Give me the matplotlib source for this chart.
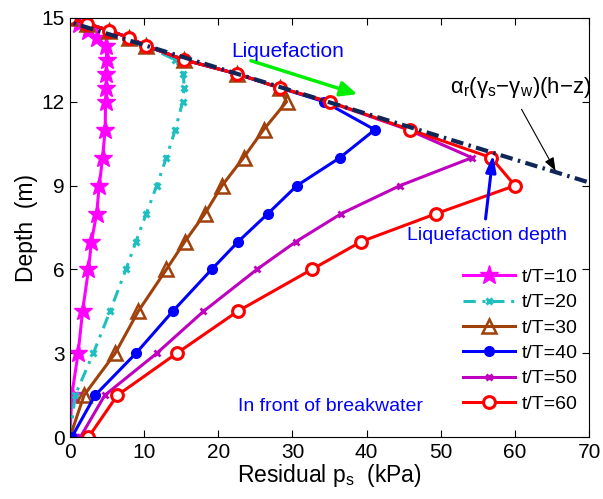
import numpy as np
import matplotlib
matplotlib.use("Agg")
import matplotlib.pyplot as plt

plt.rcParams['font.family'] = ['Liberation Sans', 'DejaVu Sans']
plt.rcParams['mathtext.fontset'] = 'custom'
plt.rcParams['mathtext.rm'] = 'Liberation Sans'
plt.rcParams['mathtext.it'] = 'Liberation Sans:italic'

# depth of each node (m)
depth = [0, 1.5, 3, 4.5, 6, 7, 8, 9, 10, 11, 12, 12.5, 13, 13.5, 14, 14.3, 14.55, 14.8, 15]

# residual pore pressure (kPa) at each node
p_10 = [0, 0.25, 1.1, 1.7, 2.5, 2.9, 3.6, 3.95, 4.4, 4.75, 4.8, 4.9, 4.9, 5.0, 4.8, 3.6, 2.5, 1.2, 0]
p_20 = [0, 0.7, 3.15, 5.4, 7.55, 8.9, 10.3, 11.7, 13.0, 14.2, 15.2, 15.4, 15.3, 14.2, 10.3, 7.9, 5.3, 2.3, 0]
p_30 = [0, 1.9, 6.1, 9.2, 13.0, 15.5, 18.2, 20.5, 23.4, 26.1, 29.2, 28.3, 22.5, 15.4, 10.3, 7.9, 5.3, 2.3, 0]
p_40 = [0.25, 3.4, 8.9, 13.85, 19.1, 22.7, 26.7, 30.6, 36.4, 41.1, 34.3, 28.3, 22.5, 15.4, 10.3, 7.9, 5.3, 2.3, 0]
p_50 = [1.4, 4.7, 11.7, 18.0, 25.2, 30.5, 36.6, 44.5, 54.2, 45.6, 34.8, 28.3, 22.5, 15.4, 10.3, 7.9, 5.3, 2.3, 0]
p_60 = [2.5, 6.4, 14.4, 22.6, 32.6, 39.3, 49.4, 60.0, 56.8, 45.9, 35.0, 28.3, 22.5, 15.4, 10.3, 7.9, 5.3, 2.3, 0]

labels = ['t/T=10', 't/T=20', 't/T=30', 't/T=40', 't/T=50', 't/T=60']

# limit line alpha_r(gs-gw)(h-z)
line_depth = [15, 8.5]
k_limit = 12.2
h_limit = 14.85

fig = plt.figure(figsize=(6.03, 4.99), dpi=100)
ax = fig.add_axes([0.116, 0.124, 0.861, 0.840])

ax.plot(p_10, depth, '-', color='#ff00ff', lw=2.2, marker='*', ms=14, label=labels[0])
ax.plot(p_20, depth, color='#1fbfbf', lw=2.2, ls=(0, (4, 2.2, 1, 2.2)), marker='x', ms=5, mew=2.2, label=labels[1])
ax.plot(p_30, depth, '-', color='#a0400a', lw=2.2, marker='^', ms=10, mfc='none', mew=1.8, label=labels[2])
ax.plot(p_40, depth, '-', color='#0000ff', lw=2.2, marker='o', ms=7, label=labels[3])
ax.plot(p_50, depth, '-', color='#bf00bf', lw=2.2, marker='x', ms=5, mew=2, label=labels[4])
ax.plot(p_60, depth, '-', color='#ff0000', lw=2.2, marker='o', ms=8.5, mfc='white', mew=2.2, label=labels[5])

ld = np.array(line_depth)
ax.plot(k_limit * (h_limit - ld), ld, color='#0f2657', lw=3, ls=(0, (3, 1.3, 0.6, 1.3)))

ax.set_xlim(0, 70)
ax.set_ylim(0, 15)
ax.set_xticks(range(0, 71, 10))
ax.set_yticks(range(0, 16, 3))
ax.tick_params(direction='in', top=True, right=True, labelsize=15, length=5, pad=4)
ax.set_xlabel('Residual p$_\\mathrm{s}$  (kPa)', fontsize=16.5, labelpad=0)
ax.set_ylabel('Depth  (m)', fontsize=16.5, labelpad=2)

ax.annotate('', xy=(39.1, 12.24), xytext=(24.05, 13.5),
            arrowprops=dict(arrowstyle='-|>,head_length=1.0,head_width=0.45', color='#00ee00', lw=2.5))
ax.text(21.8, 13.8, 'Liquefaction', color='#0000ff', fontsize=15, ha='left', va='center')

ax.annotate('', xy=(65.66, 9.44), xytext=(60.7, 11.82),
            arrowprops=dict(arrowstyle='-|>,head_length=0.8,head_width=0.3', color='black', lw=0.8))
ax.text(51.2, 12.3, 'α$_\\mathrm{r}$(γ$_\\mathrm{s}$−γ$_\\mathrm{w}$)(h−z)', color='black', fontsize=16,
        ha='left', va='baseline')

ax.annotate('', xy=(57.1, 10.21), xytext=(55.99, 7.71),
            arrowprops=dict(arrowstyle='-|>,head_length=1.0,head_width=0.3', color='#0000ff', lw=2.2))
ax.text(45.4, 7.23, 'Liquefaction depth', color='#0000ff', fontsize=14, ha='left', va='center')

ax.text(22.7, 1.08, 'In front of breakwater', color='#0000ff', fontsize=14, ha='left', va='center')

ax.legend(loc='lower right', bbox_to_anchor=(1.0, 0.03), frameon=False, fontsize=14,
          handlelength=2.65, handletextpad=0.35, labelspacing=0.4, borderaxespad=0.2)

fig.savefig('out.png', dpi=100)
